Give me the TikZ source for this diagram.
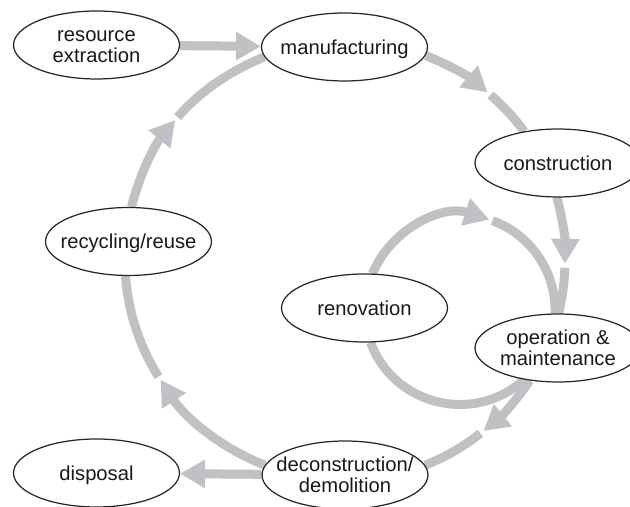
\documentclass[tikz,border=0pt]{standalone}
\usepackage{fontspec}
\setmainfont{Liberation Sans}
\usetikzlibrary{arrows.meta,shapes.geometric}
\pgfdeclarelayer{bg}
\pgfsetlayers{bg,main}
\definecolor{flowgray}{RGB}{192,193,196}
\newcommand{\lbl}[1]{\makebox[0pt][c]{\raisebox{-1.6mm}[0pt][0pt]{\begin{tabular}{@{}c@{}}#1\end{tabular}}}}
\begin{document}
\begin{tikzpicture}[x=0.02cm,y=0.02cm,
  stage/.style={ellipse, draw=black!85, line width=0.7pt, fill=white,
    minimum width=3.32cm, minimum height=1.36cm, inner sep=0pt,
    font=\fontsize{11.5pt}{11.5pt}\selectfont, text=black!90},
  flow/.style={draw=flowgray, line width=1.8mm},
  tip/.style={-{Triangle[length=5mm,width=5.4mm]}}]
\useasboundingbox (0,0) rectangle (630,507);
% nodes
\node[stage] (resext)   at (96.5,462)  {\lbl{resource\\extraction}};
\node[stage] (manuf)    at (344.5,460) {\lbl{manufacturing}};
\node[stage] (constr)   at (558,344)   {\lbl{construction}};
\node[stage] (recyc)    at (128.5,265.5) {\lbl{recycling/reuse}};
\node[stage] (renov)    at (364.5,199) {\lbl{renovation}};
\node[stage] (opmaint)  at (558,159)   {\lbl{operation \&\\maintenance}};
\node[stage] (decon)    at (345,32)    {\lbl{deconstruction/\\demolition}};
\node[stage] (disposal) at (96.5,34)   {\lbl{disposal}};
% circle centres and arrow tip positions
\coordinate (C) at (345,247);
\coordinate (Ci) at (460,197);
\path (C) ++(140.5:220) coordinate (t1)
      (C) ++(139.5:220) coordinate (s1)
      (C) ++(49.6:220)  coordinate (t2)
      (C) ++(48.6:220)  coordinate (s2)
      (C) ++(-1:220)    coordinate (t3)
      (C) ++(-2:220)    coordinate (s3)
      (C) ++(-51:220)   coordinate (t4)
      (C) ++(-52:220)   coordinate (s4)
      (C) ++(-147:220)  coordinate (t5)
      (C) ++(-148:220)  coordinate (s5)
      (Ci) ++(72:95)    coordinate (ti)
      (Ci) ++(70:95)    coordinate (si);
\begin{pgfonlayer}{bg}
\draw[flow,tip] (resext) -- (manuf);
\draw[flow,tip] (decon) -- (disposal);
\draw[flow,tip] (recyc.85) to[out=76.3,in=230.5,looseness=0.86] (t1);
\draw[flow] (s1) to[out=49.5,in=202.7,looseness=0.86] (manuf.187);
\draw[flow,tip] (manuf.-6) to[out=-21.3,in=139.6,looseness=0.86] (t2);
\draw[flow] (s2) to[out=-41.4,in=125.8,looseness=0.86] (constr.137);
\draw[flow,tip] (constr.-92) to[out=-74.2,in=89,looseness=0.86] (t3);
\draw[flow] (s3) to[out=-92,in=76.1,looseness=0.86] (opmaint.89);
\draw[flow,tip] (opmaint.229) to[out=-124,in=39,looseness=0.86] (t4);
\draw[flow] (s4) to[out=-142,in=21.3,looseness=0.86] (decon.7);
\draw[flow,tip] (decon.173) to[out=158.7,in=-57,looseness=0.87] (t5);
\draw[flow] (s5) to[out=122,in=-85.6,looseness=0.87] (recyc.265);
% renovation loop
\draw[flow,tip] (renov.77) to[out=67.1,in=162,looseness=0.98] (ti);
\draw[flow] (si) to[out=-20,in=88,looseness=0.94] (opmaint.95);
\draw[flow] (opmaint.223) to[out=-137.5,in=290.3,looseness=1.09] (renov.-80);
\end{pgfonlayer}
\end{tikzpicture}
\end{document}
